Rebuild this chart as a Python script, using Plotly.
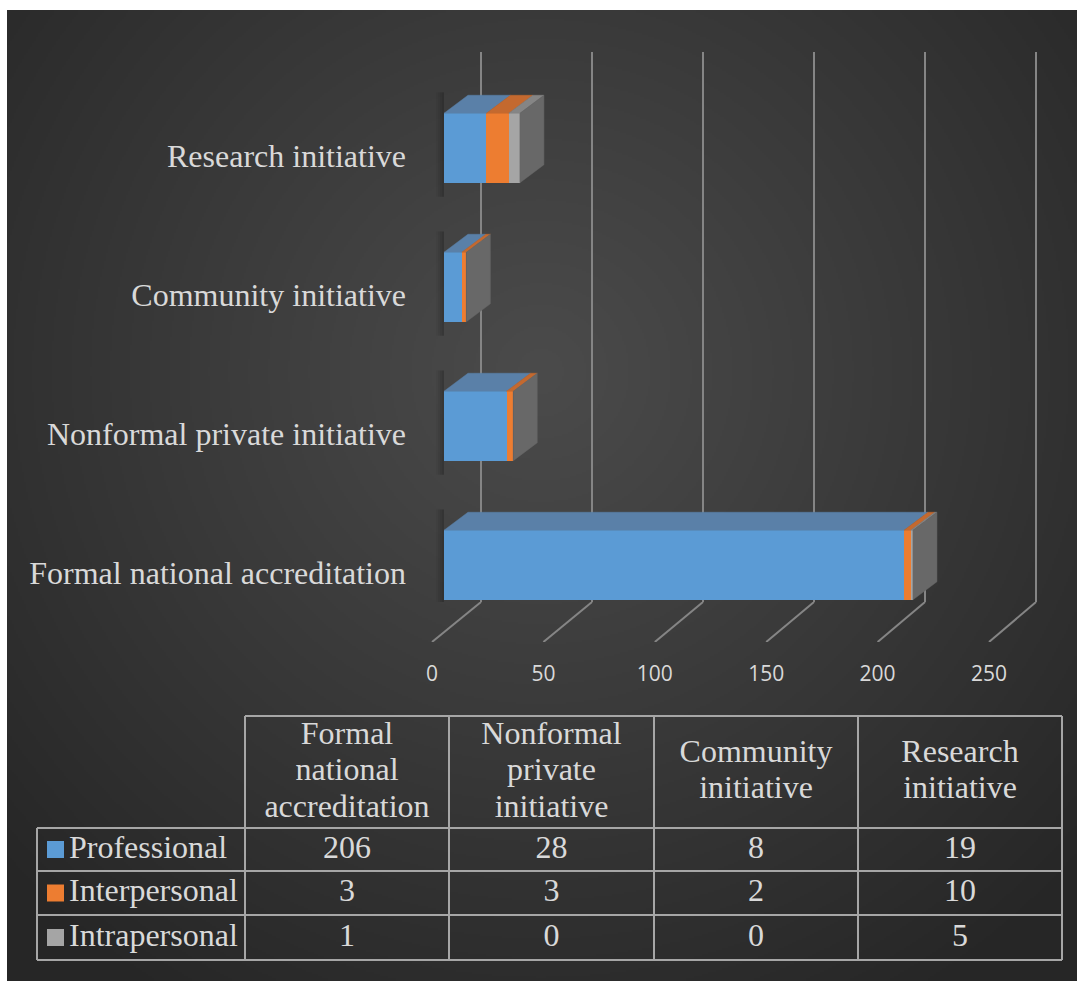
import base64
import struct
import zlib

import numpy as np
import plotly.graph_objects as go

# ---------------- data ----------------
categories = ["Formal national accreditation", "Nonformal private initiative",
              "Community initiative", "Research initiative"]
table_headers = ["Formal<br>national<br>accreditation", "Nonformal<br>private<br>initiative",
                 "Community<br>initiative", "Research<br>initiative"]
series_names = ["Professional", "Interpersonal", "Intrapersonal"]
professional = [206, 28, 8, 19]
interpersonal = [3, 3, 2, 10]
intrapersonal = [1, 0, 0, 5]
x_ticks = [0, 50, 100, 150, 200, 250]

series_values = [professional, interpersonal, intrapersonal]

# ---------------- style / geometry ----------------
W, H = 1077, 981
FRONT_COLORS = ["#5b9bd5", "#ed7d31", "#a5a5a5"]
TOP_COLORS = ["#5a80a8", "#c4692f", "#858585"]
SIDE_COLOR = "#686868"
GRID_COLOR = "#858585"
TEXT_COLOR = "#d9d9d9"
SERIF = "Liberation Serif"

PX_FRONT, X0_FRONT = 2.233, 444.0      # front face of bars
PX_BACK, X0_BACK = 2.22, 481.0         # back wall gridlines
PX_FLOOR, X0_FLOOR = 2.228, 432.0      # front edge of floor (tick labels)
ROW_PX = 139.0
BAR_Y0, LABEL_Y0 = 565.0, 573.0
WALL_TOP, WALL_BOTTOM, FLOOR_FRONT = 52.0, 602.0, 642.0
DEPTH_DX_PX, DEPTH_DY_PX = 24.0, 18.0
BAR_W = 0.5

dx = DEPTH_DX_PX / PX_FRONT
dy = DEPTH_DY_PX / ROW_PX


def xr(px_per, x0):
    return [-x0 / px_per, (W - x0) / px_per]


# ---------------- background gradient ----------------
def png_uri(arr):
    h, w, _ = arr.shape
    raw = b"".join(b"\x00" + arr[r].tobytes() for r in range(h))

    def chunk(tag, data):
        c = struct.pack(">I", len(data)) + tag + data
        return c + struct.pack(">I", zlib.crc32(tag + data) & 0xFFFFFFFF)

    png = (b"\x89PNG\r\n\x1a\n"
           + chunk(b"IHDR", struct.pack(">IIBBBBB", w, h, 8, 2, 0, 0, 0))
           + chunk(b"IDAT", zlib.compress(raw, 9))
           + chunk(b"IEND", b""))
    return "data:image/png;base64," + base64.b64encode(png).decode()


bx0, by0 = 7, 10
bw, bh = W - bx0, H - by0
gw, gh = bw // 2, bh // 2
yy, xx = np.mgrid[0:gh, 0:gw].astype(float)
cx, cy = (540 - bx0) / 2, (370 - by0) / 2
r = np.sqrt(((xx - cx) / 370.0) ** 2 + ((yy - cy) / 370.0) ** 2)
r = np.clip(r, 0, 1)
val = 0x4B - (0x4B - 0x26) * r ** 1.05
img = np.repeat(val[:, :, None], 3, axis=2).astype(np.uint8)
bg_uri = png_uri(img)

fig = go.Figure()

# ---------------- floor diagonals (x5/y5) ----------------
fx, fy = [], []
for v in x_ticks:
    back_px = X0_BACK + PX_BACK * v
    fx += [(back_px - X0_FLOOR) / PX_FLOOR, v, None]
    fy += [1, 0, None]
fig.add_trace(go.Scatter(x=fx, y=fy, mode="lines", line=dict(color=GRID_COLOR, width=2),
                         xaxis="x5", yaxis="y5", hoverinfo="skip", showlegend=False))

# ---------------- soft shadows ----------------
for w_sh, op in [(3.6, 0.04), (2.7, 0.05), (1.8, 0.05), (0.9, 0.06)]:
    sx, sy = [], []
    for i in range(len(categories)):
        yb, yt = i - BAR_W / 2 - 0.10, i + BAR_W / 2 + dy + 0.02
        sx += [-w_sh, 0, 0, -w_sh, -w_sh, None]
        sy += [yb, yb, yt, yt, yb, None]
    fig.add_trace(go.Scatter(x=sx, y=sy, mode="lines", fill="toself",
                             fillcolor=f"rgba(0,0,0,{op})", line=dict(width=0, color="rgba(0,0,0,0)"),
                             hoverinfo="skip", showlegend=False))

# ---------------- front faces (bars) ----------------
for s, name in enumerate(series_names):
    fig.add_trace(go.Bar(y=list(range(len(categories))), x=series_values[s], orientation="h",
                         width=BAR_W, name=name, marker=dict(color=FRONT_COLORS[s], line=dict(width=0)),
                         showlegend=False))

# ---------------- top faces ----------------
for s in range(len(series_names)):
    tx, ty = [], []
    for i in range(len(categories)):
        a = sum(series_values[k][i] for k in range(s))
        b = a + series_values[s][i]
        if b <= a:
            continue
        y0 = i + BAR_W / 2
        tx += [a, b, b + dx, a + dx, a, None]
        ty += [y0, y0, y0 + dy, y0 + dy, y0, None]
    if tx:
        fig.add_trace(go.Scatter(x=tx, y=ty, mode="lines", fill="toself", fillcolor=TOP_COLORS[s],
                                 line=dict(width=0.5, color=TOP_COLORS[s]), hoverinfo="skip",
                                 showlegend=False))

# ---------------- side faces ----------------
sx, sy = [], []
for i in range(len(categories)):
    T = sum(series_values[k][i] for k in range(len(series_names)))
    y0, y1 = i - BAR_W / 2, i + BAR_W / 2
    sx += [T, T, T + dx, T + dx, T, None]
    sy += [y0, y1, y1 + dy, y0 + dy, y0, None]
fig.add_trace(go.Scatter(x=sx, y=sy, mode="lines", fill="toself", fillcolor=SIDE_COLOR,
                         line=dict(width=0.5, color=SIDE_COLOR), hoverinfo="skip", showlegend=False))

# ---------------- data table (x4/y4) ----------------
col_w = [208, 204, 205, 204, 204]
row_h = [112, 43, 44, 45]
col_b = list(np.cumsum([0] + col_w))
row_b = list(np.cumsum([0] + row_h))
TW, TH = col_b[-1], row_b[-1]

lx, ly = [], []
lx += [col_b[1], TW, None]
ly += [0, 0, None]
for yb in row_b[1:]:
    lx += [0, TW, None]
    ly += [yb, yb, None]
lx += [0, 0, None]
ly += [row_b[1], TH, None]
for xb in col_b[1:]:
    lx += [xb, xb, None]
    ly += [0, TH, None]
fig.add_trace(go.Scatter(x=lx, y=ly, mode="lines", line=dict(color="#a6a6a6", width=2),
                         xaxis="x4", yaxis="y4", hoverinfo="skip", showlegend=False))

# header text (one line per text node)
hx, hy, ht = [], [], []
LINE_H = 36.5
for j, head in enumerate(table_headers):
    lines = head.split("<br>")
    n = len(lines)
    cxm = (col_b[j + 1] + col_b[j + 2]) / 2
    for k, ln in enumerate(lines):
        hx.append(cxm)
        hy.append(row_b[1] / 2 + (k - (n - 1) / 2) * LINE_H)
        ht.append(ln)
fig.add_trace(go.Scatter(x=hx, y=hy, text=ht, mode="text", textposition="middle center",
                         textfont=dict(family=SERIF, size=32, color=TEXT_COLOR),
                         xaxis="x4", yaxis="y4", hoverinfo="skip", showlegend=False))

# body values
vx, vy, vt = [], [], []
for s in range(len(series_names)):
    rc = (row_b[s + 1] + row_b[s + 2]) / 2
    for j in range(len(categories)):
        vx.append((col_b[j + 1] + col_b[j + 2]) / 2)
        vy.append(rc)
        vt.append(str(series_values[s][j]))
fig.add_trace(go.Scatter(x=vx, y=vy, text=vt, mode="text", textposition="middle center",
                         textfont=dict(family=SERIF, size=32, color=TEXT_COLOR),
                         xaxis="x4", yaxis="y4", hoverinfo="skip", showlegend=False))

# legend keys + row labels
rcs = [(row_b[s + 1] + row_b[s + 2]) / 2 for s in range(len(series_names))]
fig.add_trace(go.Scatter(x=[18.5] * 3, y=rcs, mode="markers",
                         marker=dict(symbol="square", size=17, color=FRONT_COLORS, line=dict(width=0)),
                         xaxis="x4", yaxis="y4", hoverinfo="skip", showlegend=False))
fig.add_trace(go.Scatter(x=[32] * 3, y=rcs, text=series_names, mode="text", textposition="middle right",
                         textfont=dict(family=SERIF, size=32, color=TEXT_COLOR),
                         xaxis="x4", yaxis="y4", hoverinfo="skip", showlegend=False))

# ---------------- layout ----------------
main_y_range = [(BAR_Y0 - WALL_BOTTOM) / ROW_PX, (BAR_Y0 - WALL_TOP) / ROW_PX]
# back-wall gridlines expressed in front-face units
back_grid_vals = [(X0_BACK + PX_BACK * v - X0_FRONT) / PX_FRONT for v in x_ticks]
# category labels sit slightly below bar centres
label_vals = [i - (LABEL_Y0 - BAR_Y0) / ROW_PX for i in range(len(categories))]
TX0, TY0 = 37, 716
pad = 3

fig.update_layout(
    width=W, height=H, margin=dict(l=0, r=0, t=0, b=0),
    paper_bgcolor="white", plot_bgcolor="rgba(0,0,0,0)",
    barmode="stack", bargap=0, showlegend=False,
    images=[dict(source=bg_uri, xref="paper", yref="paper", x=bx0 / W, y=1 - by0 / H,
                 sizex=bw / W, sizey=bh / H, xanchor="left", yanchor="top",
                 sizing="stretch", layer="below")],
    xaxis=dict(domain=[0, 1], range=xr(PX_FRONT, X0_FRONT), fixedrange=True,
               tickmode="array", tickvals=back_grid_vals, showgrid=True, gridcolor=GRID_COLOR,
               gridwidth=2, zeroline=False, showline=False, showticklabels=False, ticks=""),
    yaxis=dict(domain=[1 - WALL_BOTTOM / H, 1 - WALL_TOP / H], range=main_y_range,
               anchor="free", position=406 / W, side="left", fixedrange=True,
               tickmode="array", tickvals=label_vals, ticktext=categories,
               showgrid=False, zeroline=False, showline=False, ticks="",
               tickfont=dict(family=SERIF, size=32, color=TEXT_COLOR)),
    xaxis5=dict(domain=[0, 1], anchor="y5", range=xr(PX_FLOOR, X0_FLOOR), tickmode="array",
                tickvals=x_ticks, showgrid=False, zeroline=False, showline=False, ticks="",
                ticklabelstandoff=17,
                tickfont=dict(family="Open Sans", size=21, color=TEXT_COLOR)),
    yaxis5=dict(domain=[1 - FLOOR_FRONT / H, 1 - WALL_BOTTOM / H], anchor="x5", range=[0, 1],
                visible=False),
    xaxis4=dict(domain=[(TX0 - pad) / W, (TX0 + TW + pad) / W], anchor="y4",
                range=[-pad, TW + pad], visible=False),
    yaxis4=dict(domain=[1 - (TY0 + TH + pad) / H, 1 - (TY0 - pad) / H], anchor="x4",
                range=[TH + pad, -pad], visible=False),
)

fig.write_html("out.html")
